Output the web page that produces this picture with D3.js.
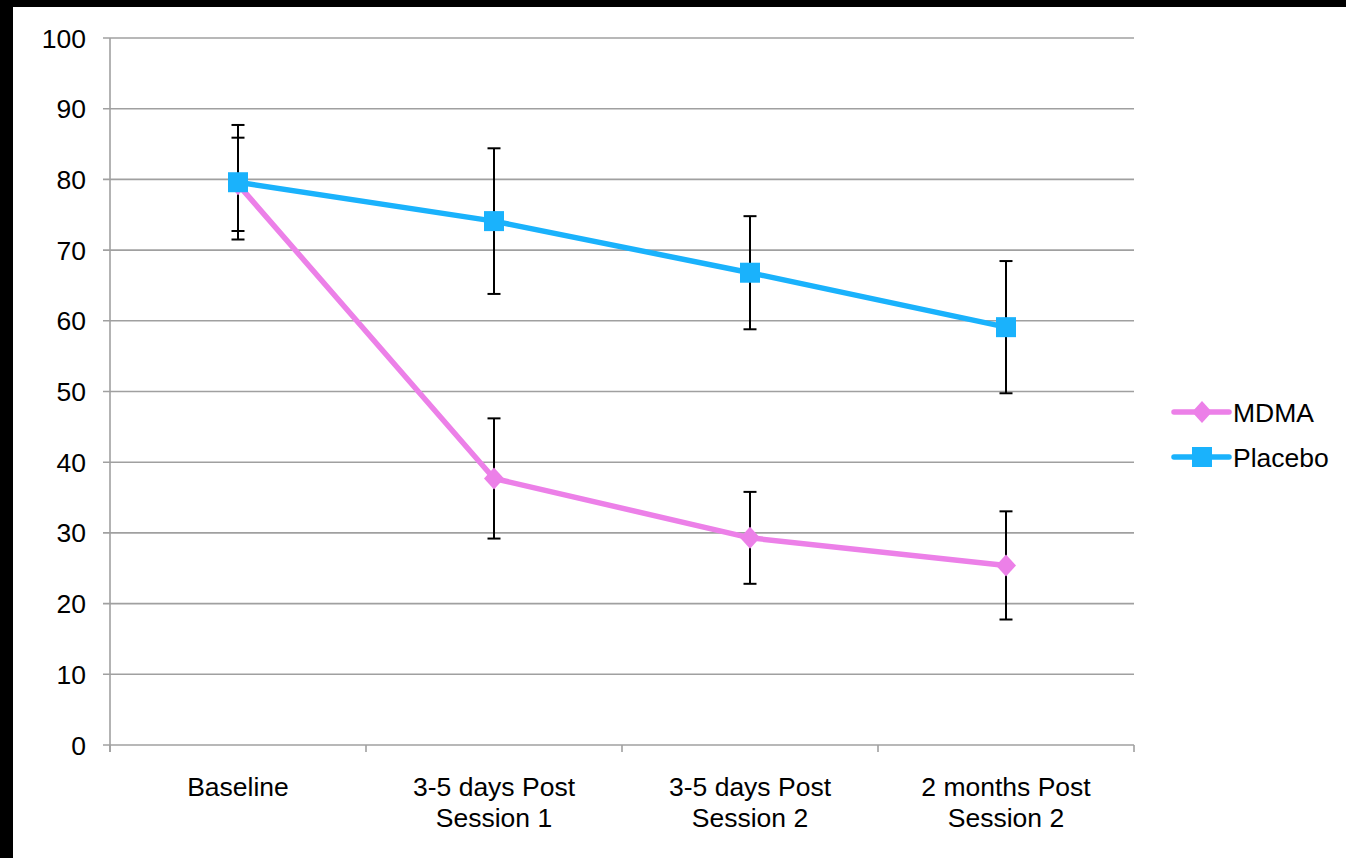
<!DOCTYPE html>
<html>
<head>
<meta charset="utf-8">
<script src="https://cdn.jsdelivr.net/npm/d3@7/dist/d3.min.js"></script>
<style>
html,body{margin:0;padding:0;background:#fff;}
svg{display:block;}
text{font-family:"Liberation Sans",Arial,sans-serif;fill:#000;}
</style>
</head>
<body>
<svg id="chart" width="1346" height="858"></svg>
<script>
const categories = [["Baseline"], ["3-5 days Post", "Session 1"], ["3-5 days Post", "Session 2"], ["2 months Post", "Session 2"]];
const seriesNames = ["MDMA", "Placebo"];
const mdmaValues = [79.3, 37.7, 29.3, 25.4];
const mdmaErrors = [6.6, 8.5, 6.5, 7.65];
const placeboValues = [79.6, 74.1, 66.8, 59.1];
const placeboErrors = [8.1, 10.3, 8.0, 9.35];
const yTicks = [0, 10, 20, 30, 40, 50, 60, 70, 80, 90, 100];

(function () {
const colors = {MDMA: "#EC80E8", Placebo: "#1AB2FC"};
const series = [
  {name: seriesNames[0], values: mdmaValues, errors: mdmaErrors, marker: "diamond"},
  {name: seriesNames[1], values: placeboValues, errors: placeboErrors, marker: "square"}
];
const FS = 26.5;

const svg = d3.select("#chart");
const W = 1346, H = 858;
const mLeft = 110, mRight = 1134, mTop = 38, mBottom = 745;

svg.append("rect").attr("x", 0).attr("y", 0).attr("width", W).attr("height", H).attr("fill", "#fff");
svg.append("rect").attr("x", 0).attr("y", 0).attr("width", W).attr("height", 7).attr("fill", "#000");
svg.append("rect").attr("x", 0).attr("y", 0).attr("width", 13).attr("height", H).attr("fill", "#000");

const x = d3.scaleBand().domain(d3.range(categories.length)).range([mLeft, mRight]).padding(0);
const y = d3.scaleLinear().domain([0, 100]).range([mBottom, mTop]);
const cx = i => x(i) + x.bandwidth() / 2;

// gridlines
svg.append("g").selectAll("line").data(yTicks).join("line")
  .attr("x1", mLeft - 7).attr("x2", mRight)
  .attr("y1", d => y(d)).attr("y2", d => y(d))
  .attr("stroke", "#a0a0a0").attr("stroke-width", 1.6);

// y axis line
svg.append("line").attr("x1", mLeft).attr("x2", mLeft).attr("y1", mTop).attr("y2", mBottom + 7)
  .attr("stroke", "#a0a0a0").attr("stroke-width", 1.6);
// x axis ticks
const bounds = d3.range(categories.length + 1).map(i => i < categories.length ? x(i) : mRight);
svg.append("g").selectAll("line").data(bounds).join("line")
  .attr("x1", d => d).attr("x2", d => d).attr("y1", mBottom).attr("y2", mBottom + 7)
  .attr("stroke", "#a0a0a0").attr("stroke-width", 1.6);

// y tick labels
svg.append("g").selectAll("text").data(yTicks).join("text")
  .attr("x", 86).attr("y", d => y(d)).attr("dy", "0.36em")
  .attr("text-anchor", "end").attr("font-size", FS).text(d => d);

// x labels
const xl = svg.append("g").selectAll("text").data(categories).join("text")
  .attr("text-anchor", "middle").attr("font-size", FS)
  .attr("transform", (d, i) => `translate(${cx(i)},796)`);
xl.selectAll("tspan").data(d => d).join("tspan")
  .attr("x", 0).attr("y", (d, j) => j * 31).text(d => d);

// error bars
series.forEach(s => {
  const g = svg.append("g").attr("stroke", "#000").attr("stroke-width", 2);
  s.values.forEach((v, i) => {
    const hi = y(v + s.errors[i]), lo = y(v - s.errors[i]);
    g.append("line").attr("x1", cx(i)).attr("x2", cx(i)).attr("y1", hi).attr("y2", lo);
    g.append("line").attr("x1", cx(i) - 6.5).attr("x2", cx(i) + 6.5).attr("y1", hi).attr("y2", hi);
    g.append("line").attr("x1", cx(i) - 6.5).attr("x2", cx(i) + 6.5).attr("y1", lo).attr("y2", lo);
  });
});

function drawMarker(g, type, px, py, color) {
  if (type === "square") {
    g.append("rect").attr("x", px - 10).attr("y", py - 10).attr("width", 20).attr("height", 20).attr("fill", color);
  } else {
    g.append("path").attr("d", `M${px},${py - 11}L${px + 10},${py}L${px},${py + 11}L${px - 10},${py}Z`).attr("fill", color);
  }
}

const line = d3.line().x((d, i) => cx(i)).y(d => y(d));
series.forEach(s => {
  const g = svg.append("g");
  g.append("path").datum(s.values).attr("d", line).attr("fill", "none")
    .attr("stroke", colors[s.name]).attr("stroke-width", 5.5).attr("stroke-linejoin", "round");
  s.values.forEach((v, i) => drawMarker(g, s.marker, cx(i), y(v), colors[s.name]));
});

// legend
const lg = svg.append("g");
series.forEach((s, k) => {
  const ly = 412 + k * 45;
  lg.append("line").attr("x1", 1174).attr("x2", 1229).attr("y1", ly).attr("y2", ly)
    .attr("stroke", colors[s.name]).attr("stroke-width", 5.5).attr("stroke-linecap", "round");
  drawMarker(lg, s.marker, 1202, ly, colors[s.name]);
  lg.append("text").attr("x", 1233).attr("y", ly).attr("dy", "0.36em").attr("font-size", FS).text(s.name);
});
})();
</script>
</body>
</html>
